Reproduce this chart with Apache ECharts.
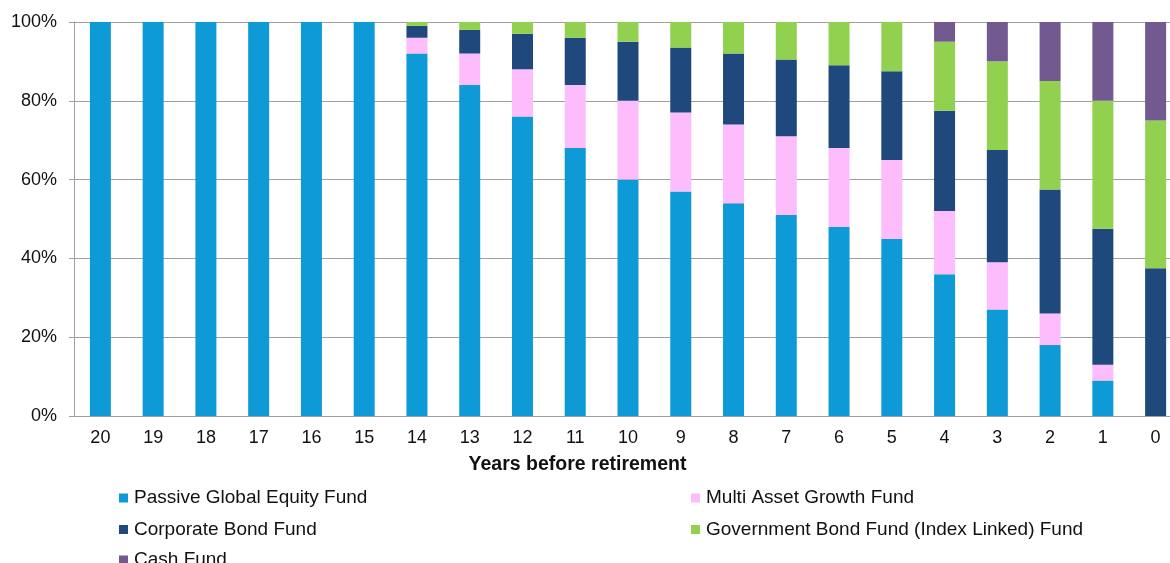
<!DOCTYPE html>
<html>
<head>
<meta charset="utf-8">
<script src="https://cdn.jsdelivr.net/npm/echarts@6/dist/echarts.min.js"></script>
<style>
html,body{margin:0;padding:0;background:#fff;overflow:hidden;width:1170px;height:563px;}
#main{width:1182px;height:563px;}
</style>
</head>
<body>
<div id="main"></div>
<script>
const categories = ['20','19','18','17','16','15','14','13','12','11','10','9','8','7','6','5','4','3','2','1','0'];
const equity = [100,100,100,100,100,100,92,84,76,68,60,57,54,51,48,45,36,27,18,9,0];
const multiAsset = [0,0,0,0,0,0,4,8,12,16,20,20,20,20,20,20,16,12,8,4,0];
const corporate = [0,0,0,0,0,0,3,6,9,12,15,16.5,18,19.5,21,22.5,25.5,28.5,31.5,34.5,37.5];
const government = [0,0,0,0,0,0,1,2,3,4,5,6.5,8,9.5,11,12.5,17.5,22.5,27.5,32.5,37.5];
const cash = [0,0,0,0,0,0,0,0,0,0,0,0,0,0,0,0,5,10,15,20,25];
const yTicks = ['0%','20%','40%','60%','80%','100%'];

const names = ['Passive Global Equity Fund','Multi Asset Growth Fund','Corporate Bond Fund','Government Bond Fund (Index Linked) Fund','Cash Fund'];
const colors = ['#0e9ad7','#fdbcfc','#1f497d','#92d050','#72598f'];
const datasets = [equity, multiAsset, corporate, government, cash];

const font = 'Liberation Sans, Arial, sans-serif';
const legendPos = [[119,488.5],[691,488.5],[119,520],[691,520],[119,550.5]];

const chart = echarts.init(document.getElementById('main'), null, {renderer:'canvas'});
chart.setOption({
  animation:false,
  color: colors,
  grid:{left:74, right:0, top:22, bottom:147, containLabel:false},
  xAxis:{
    type:'category', data:categories,
    axisLine:{show:true, lineStyle:{color:'#a0a0a0', width:1}},
    axisTick:{show:false},
    axisLabel:{color:'#111', fontFamily:font, fontSize:18, margin:13}
  },
  yAxis:{
    type:'value', min:0, max:100, interval:20,
    axisLine:{show:true, lineStyle:{color:'#a0a0a0'}},
    axisTick:{show:true, inside:false, length:5, lineStyle:{color:'#a0a0a0'}},
    splitLine:{show:true, lineStyle:{color:'#a0a0a0', width:1}},
    axisLabel:{color:'#111', fontFamily:font, fontSize:18, margin:17,
      formatter:function(v){ return yTicks[Math.round(v/20)]; }}
  },
  legend: names.map(function(n,i){
    return {
      data:[n], left:legendPos[i][0], top:legendPos[i][1],
      icon:'rect', itemWidth:9, itemHeight:9, itemGap:0, padding:0,
      textStyle:{color:'#111', fontFamily:font, fontSize:19, lineHeight:19, padding:[0,0,0,1]},
      selectedMode:false
    };
  }),
  graphic:[{
    type:'text', x:577.5, y:465,
    style:{text:'Years before retirement', fill:'#111', font:'bold 19.5px ' + font, textAlign:'center', textVerticalAlign:'middle'}
  }],
  series: names.map(function(n,i){
    return {
      name:n, type:'bar', stack:'total', barWidth:21,
      data:datasets[i],
      itemStyle:{color:colors[i]},
      emphasis:{disabled:true}
    };
  })
});
</script>
</body>
</html>
